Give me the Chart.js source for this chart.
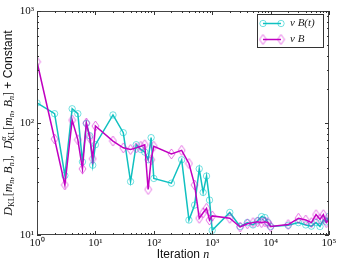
<!DOCTYPE html>
<html>
<head>
<meta charset="utf-8">
<script src="https://cdn.jsdelivr.net/npm/chart.js@4/dist/chart.umd.min.js"></script>
<style>
html,body{margin:0;padding:0;background:#fff;}
canvas{display:block;}
</style>
</head>
<body>
<canvas id="c" width="341" height="268"></canvas>
<script>
// ---- data ----
const iterations = [1,2,3,4,5,6,7,8,9,10,20,30,40,50,60,70,80,90,100,200,300,400,500,600,700,800,900,1000,2000,3000,4000,5000,6000,7000,8000,9000,10000,20000,30000,40000,50000,60000,70000,80000,90000,100000];
const nuBt = [151,121,34,134,121,45,99,77,42,64,118,82,30,64,58,55,47,74,32,29,47,13.6,18.5,39,24,33.6,20.5,11.0,15.9,11.9,12.9,12.3,13.4,14.6,14.3,12.9,11.9,12.2,12.9,12.3,12.0,12.9,11.9,13.6,13.1,14.7];
const nuB = [352,72,28,106,71,39,100,74,48,94,69,60,58,60,62,64,25.5,47,62,53,57,43.5,28,14.1,15.8,17.3,13.6,14.8,14.1,11.8,12.6,12.9,13.1,12.9,13.1,12.9,11.9,12.4,14.1,13.6,12.9,15.2,13.8,15.2,12.9,13.8];
const seriesLabels = ['\u03bd B(t)', '\u03bd B'];
const xTickValues = [1,10,100,1000,10000,100000];
const xTickLabels = ['10\u2070','10\u00b9','10\u00b2','10\u00b3','10\u2074','10\u2075'];
const yTickValues = [10,100,1000];
const yTickLabels = ['10\u00b9','10\u00b2','10\u00b3'];

const CYAN = '#10c0c0', MAG = '#c000c0';
const CYAN_M = 'rgba(0,200,200,0.55)', MAG_M = 'rgba(210,0,210,0.55)';

function makeDiamond(){
  const c = document.createElement('canvas');
  c.width = 9; c.height = 12;
  const g = c.getContext('2d');
  g.strokeStyle = MAG_M; g.lineWidth = 1;
  g.beginPath();
  g.moveTo(4.5,1); g.lineTo(8,6); g.lineTo(4.5,11); g.lineTo(1,6); g.closePath();
  g.stroke();
  return c;
}
const diamond = makeDiamond();

function drawCircleMarker(ctx,x,y){
  ctx.save(); ctx.strokeStyle = CYAN_M; ctx.lineWidth = 1;
  ctx.beginPath(); ctx.arc(x,y,3.2,0,Math.PI*2); ctx.stroke(); ctx.restore();
}

const framePlugin = {
  id:'frame',
  afterDatasetsDraw(chart){
    const {ctx, chartArea:a, scales:{x, y}} = chart;
    ctx.save();
    ctx.strokeStyle = '#444'; ctx.lineWidth = 1;
    ctx.strokeRect(Math.round(a.left)+0.5, Math.round(a.top)+0.5, Math.round(a.right-a.left)-1, Math.round(a.bottom-a.top)-1);
    ctx.strokeStyle = '#333';
    ctx.beginPath();
    for (let d=0; d<=5; d++){
      for (let k=1; k<=9; k++){
        if (d===5 && k>1) break;
        const v = k*Math.pow(10,d);
        const px = Math.round(x.getPixelForValue(v))+0.5;
        const L = k===1 ? 4 : 2;
        ctx.moveTo(px, a.bottom); ctx.lineTo(px, a.bottom-L);
        ctx.moveTo(px, a.top); ctx.lineTo(px, a.top+L);
      }
    }
    for (let d=1; d<=3; d++){
      for (let k=1; k<=9; k++){
        if (d===3 && k>1) break;
        const v = k*Math.pow(10,d);
        const py = Math.round(y.getPixelForValue(v))+0.5;
        const L = k===1 ? 4 : 2;
        ctx.moveTo(a.left, py); ctx.lineTo(a.left+L, py);
        ctx.moveTo(a.right, py); ctx.lineTo(a.right-L, py);
      }
    }
    ctx.stroke();
    ctx.restore();
  },
  afterDraw(chart){
    const ctx = chart.ctx, a = chart.chartArea;
    // legend
    const bx = 257.5, by = 14.5, bw = 66, bh = 33;
    ctx.save();
    ctx.fillStyle = '#fff'; ctx.fillRect(bx,by,bw,bh);
    ctx.strokeStyle = '#333'; ctx.lineWidth = 1; ctx.strokeRect(bx,by,bw,bh);
    const rows = [{y:23.5,c:CYAN,m:'c',t:seriesLabels[0]},{y:39.5,c:MAG,m:'d',t:seriesLabels[1]}];
    rows.forEach(r=>{
      ctx.strokeStyle = r.c; ctx.lineWidth = 1.5;
      ctx.beginPath(); ctx.moveTo(263,r.y); ctx.lineTo(281,r.y); ctx.stroke();
      [263,281].forEach(px=>{
        if (r.m==='c') drawCircleMarker(ctx,px,r.y);
        else ctx.drawImage(diamond, px-4.5, r.y-6);
      });
      ctx.fillStyle = '#222';
      ctx.font = 'italic 11px "Liberation Serif"';
      ctx.textBaseline = 'middle'; ctx.textAlign = 'left';
      ctx.fillText(r.t, 290, r.y);
    });
    ctx.restore();

    // x title
    ctx.save();
    ctx.fillStyle = '#111'; ctx.textBaseline = 'middle';
    const f1 = '12px "Liberation Sans"', f2 = 'italic 12px "Liberation Serif"';
    ctx.font = f1; const w1 = ctx.measureText('Iteration ').width;
    ctx.font = f2; const w2 = ctx.measureText('n').width;
    let sx = (a.left+a.right)/2 - (w1+w2)/2;
    ctx.font = f1; ctx.fillText('Iteration ', sx, 254.5);
    ctx.font = f2; ctx.fillText('n', sx+w1, 254.5);
    ctx.restore();

    // y title (rotated, mixed fonts)
    const I = 'italic 12px "Liberation Serif"', R = '12px "Liberation Serif"', S = '8px "Liberation Serif"', SI = 'italic 8px "Liberation Serif"', SANS = '12px "Liberation Sans"';
    const parts = [];
    function bracket(){
      parts.push({t:'[',f:R,dy:0});
      parts.push({t:'m',f:I,dy:0}); parts.push({t:'n',f:SI,dy:3});
      parts.push({t:', ',f:R,dy:0});
      parts.push({t:'B',f:I,dy:0}); parts.push({t:'n',f:SI,dy:3});
      parts.push({t:']',f:R,dy:0});
    }
    parts.push({t:'D',f:I,dy:0}); parts.push({t:'KL',f:S,dy:3});
    bracket();
    parts.push({t:',  ',f:R,dy:0});
    parts.push({t:'D',f:I,dy:0}); parts.push({t:'\u03b1',f:SI,dy:-5,noadv:true}); parts.push({t:'KL',f:S,dy:3});
    bracket();
    parts.push({t:' + Constant',f:SANS,dy:0});
    ctx.save();
    let total = 0;
    parts.forEach(p=>{ctx.font=p.f; p.w = ctx.measureText(p.t).width; if(!p.noadv) total += p.w;});
    ctx.translate(9, (a.top+a.bottom)/2);
    ctx.rotate(-Math.PI/2);
    ctx.fillStyle = '#111'; ctx.textBaseline = 'middle'; ctx.textAlign = 'left';
    let cx = -total/2;
    parts.forEach(p=>{ctx.font=p.f; ctx.fillText(p.t, cx, p.dy); if(!p.noadv) cx += p.w;});
    ctx.restore();
  }
};

new Chart(document.getElementById('c'), {
  type:'line',
  data:{
    datasets:[
      {label:seriesLabels[0], data: iterations.map((v,i)=>({x:v,y:nuBt[i]})), borderColor:CYAN, borderWidth:1.5,
       pointStyle:'circle', pointRadius:3.2, pointBorderColor:CYAN_M, pointBackgroundColor:'rgba(0,0,0,0)', pointBorderWidth:1, tension:0, order:1},
      {label:seriesLabels[1], data: iterations.map((v,i)=>({x:v,y:nuB[i]})), borderColor:MAG, borderWidth:1.5,
       pointStyle:diamond, pointRadius:5, pointBorderColor:MAG_M, pointBackgroundColor:'rgba(0,0,0,0)', tension:0, order:0}
    ]
  },
  options:{
    responsive:false, animation:false, devicePixelRatio:1,
    layout:{padding:{top:11,right:12,left:0,bottom:0}},
    plugins:{legend:{display:false}, tooltip:{enabled:false}},
    scales:{
      x:{type:'logarithmic', min:1, max:100000,
        grid:{display:false, drawTicks:false}, border:{display:false},
        afterBuildTicks(s){ s.ticks = xTickValues.map(v=>({value:v})); },
        afterFit(s){ s.height = 33; },
        ticks:{autoSkip:false, maxRotation:0, padding:2, color:'#111', font:{family:'Liberation Serif', size:11},
          callback(v){ const i = xTickValues.indexOf(v); return i>=0 ? xTickLabels[i] : ''; }}
      },
      y:{type:'logarithmic', min:10, max:1000,
        grid:{display:false, drawTicks:false}, border:{display:false},
        afterBuildTicks(s){ s.ticks = yTickValues.map(v=>({value:v})); },
        afterFit(s){ s.width = 37; },
        ticks:{autoSkip:false, padding:3, color:'#111', font:{family:'Liberation Serif', size:11},
          callback(v){ const i = yTickValues.indexOf(v); return i>=0 ? yTickLabels[i] : ''; }}
      }
    }
  },
  plugins:[framePlugin]
});
</script>
</body>
</html>
